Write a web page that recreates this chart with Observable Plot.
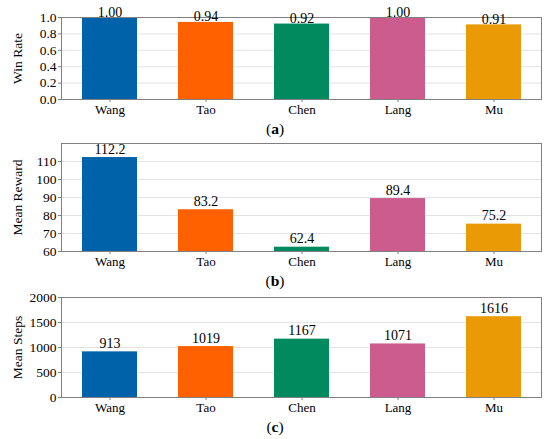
<!DOCTYPE html>
<html><head><meta charset="utf-8">
<script src="https://cdn.jsdelivr.net/npm/d3@7"></script>
<script src="https://cdn.jsdelivr.net/npm/@observablehq/plot@0.6"></script>
<style>
body{margin:0;background:#fff;}
#chart{width:550px;font-family:"Liberation Serif","Times New Roman",Times,"DejaVu Serif",serif;color:#000;}
.cap{text-align:center;font-size:15.5px;height:24px;line-height:24px;width:550px;}
svg{overflow:visible;display:block;}
svg text{font-family:"Liberation Serif","Times New Roman",Times,"DejaVu Serif",serif !important;}
</style></head><body><div id="chart"></div>
<script>
const agents = ["Wang","Tao","Chen","Lang","Mu"];
const colors = ["#0062A8","#FF6100","#008A5E","#CC5B8E","#EA9A05"];
const winRate = [1.00,0.94,0.92,1.00,0.91];
const winRateLabels = ["1.00","0.94","0.92","1.00","0.91"];
const meanReward = [112.2,83.2,62.4,89.4,75.2];
const meanRewardLabels = ["112.2","83.2","62.4","89.4","75.2"];
const meanSteps = [913,1019,1167,1071,1616];
const meanStepsLabels = ["913","1019","1167","1071","1616"];
const winTicks = [0,0.2,0.4,0.6,0.8,1.0];
const rewardTicks = [60,70,80,90,100,110];
const stepTicks = [0,500,1000,1500,2000];
const serif = '"Liberation Serif","Times New Roman",Times,"DejaVu Serif",serif';

function panel(values, labels, domain, ticks, tickFormat, yLabel, height, marginTop, labelDy) {
  const data = agents.map((a, i) => ({agent: a, value: values[i], label: labels[i]}));
  return Plot.plot({
    width: 550, height, marginTop, marginBottom: 18, marginLeft: 61, marginRight: 9,
    style: {fontFamily: serif, fontSize: "13px", color: "#000", background: "#fff"},
    x: {domain: agents, paddingInner: 0.43, paddingOuter: 0.215, axis: null},
    y: {domain, axis: null},
    color: {domain: agents, range: colors},
    marks: [
      Plot.gridY(ticks, {stroke: "#d0d0d0", strokeOpacity: 0.6}),
      Plot.barY(data, {x: "agent", y1: domain[0], y2: "value", fill: "agent"}),
      Plot.frame({stroke: "#808080"}),
      Plot.axisY(ticks, {tickFormat, tickSize: 3, tickPadding: 2, label: null, stroke: "#808080", fill: "#000", fontSize: 13.5}),
      Plot.axisX({tickSize: 3, tickPadding: 2, label: null, stroke: "#808080", fill: "#000", fontSize: 13}),
      Plot.text([yLabel], {frameAnchor: "left", dx: -44, rotate: -90, textAnchor: "middle", fontSize: 13.5, fill: "#000"}),
      Plot.text(data, {x: "agent", y: "value", text: "label", lineAnchor: "bottom", dy: labelDy, fontSize: 14, fill: "#000"})
    ]
  });
}
function caption(letter) {
  const d = document.createElement("div");
  d.className = "cap";
  d.innerHTML = "(<b>" + letter + "</b>)";
  return d;
}
const root = document.getElementById("chart");
root.append(panel(winRate, winRateLabels, [0, 1], winTicks, d3.format(".1f"), "Win Rate", 117, 17, -1));
root.append(caption("a"));
root.append(panel(meanReward, meanRewardLabels, [60, 120], rewardTicks, d3.format("d"), "Mean Reward", 128, 2, -4));
root.append(caption("b"));
root.append(panel(meanSteps, meanStepsLabels, [0, 2000], stepTicks, d3.format("d"), "Mean Steps", 122, 4, -4));
root.append(caption("c"));
</script></body></html>
